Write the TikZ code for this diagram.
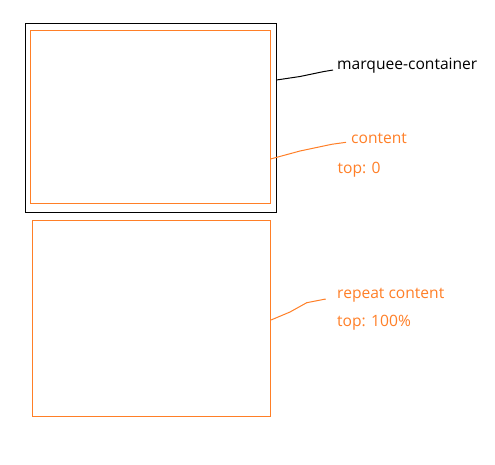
\documentclass[tikz,border=0pt]{standalone}
\usepackage{fontspec}
\setmainfont{Open Sans}
\definecolor{paintorange}{RGB}{255,127,39}
\begin{document}
\begin{tikzpicture}[x=1pt,y=-1pt,
  blackbox/.style={draw=black,line width=1pt,inner sep=0pt,anchor=north west},
  orangebox/.style={draw=paintorange,line width=1pt,inner sep=0pt,anchor=north west},
  lbl/.style={font=\fontsize{15.6}{18}\selectfont,inner sep=0pt,anchor=west},
  olbl/.style={lbl,text=paintorange},
  blead/.style={draw=black,line width=1pt},
  olead/.style={draw=paintorange,line width=1pt}]
\useasboundingbox (0,0) rectangle (495,464);
\fill[white] (0,0) rectangle (495,464);
\node[blackbox,minimum width=251pt,minimum height=189pt] (container) at (24.5,22.5) {};
\node[orangebox,minimum width=240pt,minimum height=173pt] (content) at (29.5,29.5) {};
\node[orangebox,minimum width=238.5pt,minimum height=196pt] (repeat) at (31.5,219.5) {};
\node[lbl] (lmc) at (337,66) {marquee-container};
\node[olbl] (lct) at (351,138) {content};
\node[olbl] (ltop0) at (337.5,169.5) {top: 0};
\node[olbl] (lrc) at (337,295) {repeat content};
\node[olbl] (ltop100) at (337,322.5) {top: 100\%};
\draw[blead] (container.east |- 0,80) -- (300,76.5) -- (323,71.7) -- (333,70);
\draw[olead] (content.east |- 0,159) -- (300,151) -- (331.7,144.3) -- (346,142.3);
\draw[olead] (repeat.east |- 0,320) -- (290,312) -- (306.7,302.7) -- (325.7,299);
\end{tikzpicture}
\end{document}
